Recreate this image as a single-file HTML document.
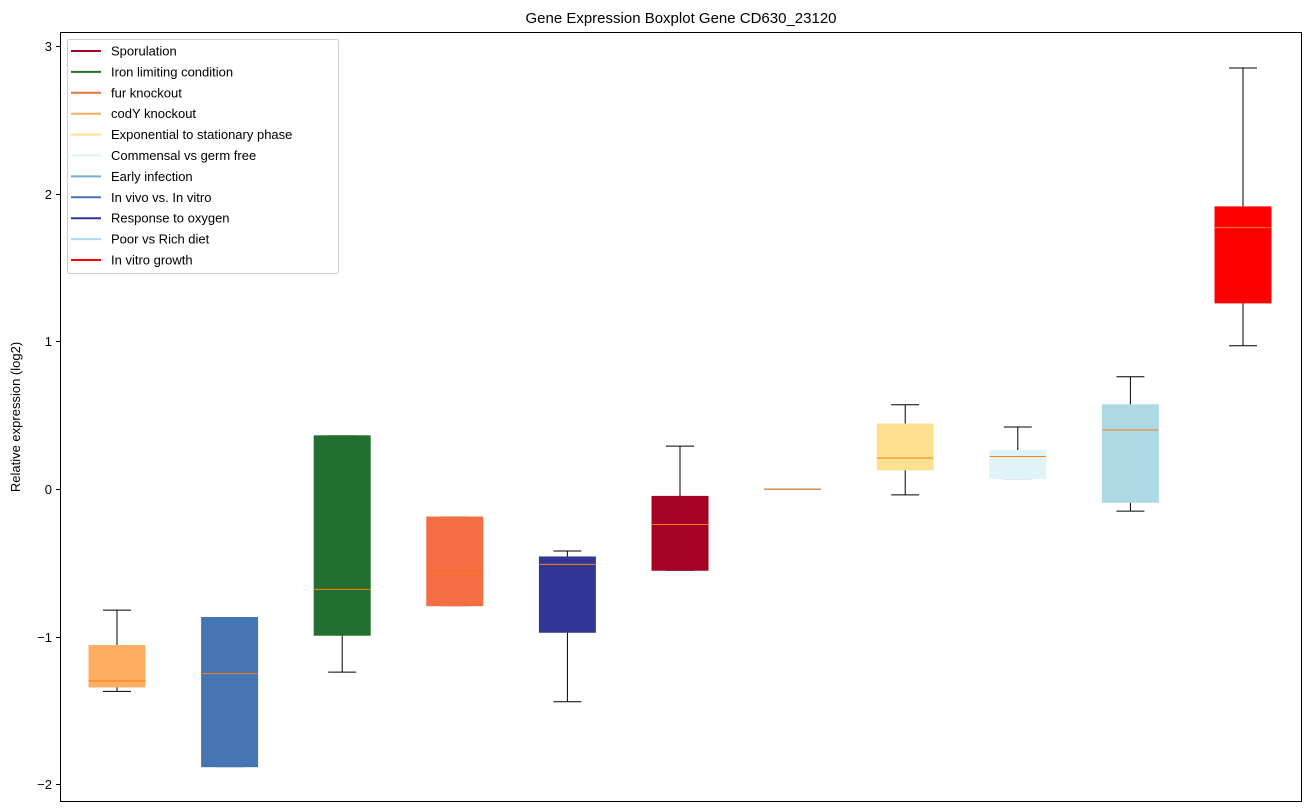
<!DOCTYPE html>
<html><head><meta charset="utf-8">
<style>
html,body{margin:0;padding:0;background:#fff;}
svg{display:block;font-family:"Liberation Sans","DejaVu Sans",sans-serif;}
</style></head>
<body>
<svg id="chart" width="1309" height="812" viewBox="0 0 1309 812">
<text x="681" y="23" text-anchor="middle" font-size="15" fill="#000">Gene Expression Boxplot Gene CD630_23120</text>
<text transform="translate(20,417) rotate(-90)" text-anchor="middle" font-size="13" fill="#000">Relative expression (log2)</text>
<g id="boxes"></g>
<g id="yticks"></g>
<rect x="60.5" y="32.5" width="1241" height="769" fill="none" stroke="#000" stroke-width="1"/>
<g id="legend"></g>
</svg>
<script>
const categories = ["codY knockout","In vivo vs. In vitro","Iron limiting condition","fur knockout","Response to oxygen","Sporulation","Early infection","Exponential to stationary phase","Commensal vs germ free","Poor vs Rich diet","In vitro growth"];
const colors = ["#fdae61","#4575b4","#226e2e","#f46d43","#313695","#a50026","#74add1","#fee090","#e0f3f8","#add8e6","#ff0000"];
const whiskerLow = [-1.37,-1.88,-1.24,-0.79,-1.44,-0.55,0,-0.04,0.07,-0.15,0.97];
const q1 = [-1.34,-1.88,-0.99,-0.79,-0.97,-0.55,0,0.13,0.07,-0.09,1.26];
const medians = [-1.30,-1.25,-0.68,-0.57,-0.51,-0.24,0,0.21,0.22,0.40,1.77];
const q3 = [-1.06,-0.87,0.36,-0.19,-0.46,-0.05,0,0.44,0.26,0.57,1.91];
const whiskerHigh = [-0.82,-0.87,0.36,-0.19,-0.42,0.29,0,0.57,0.42,0.76,2.85];
const yTicks = [-2,-1,0,1,2,3];
const legendLabels = ["Sporulation","Iron limiting condition","fur knockout","codY knockout","Exponential to stationary phase","Commensal vs germ free","Early infection","In vivo vs. In vitro","Response to oxygen","Poor vs Rich diet","In vitro growth"];
const legendColors = ["#a50026","#226e2e","#f46d43","#fdae61","#fee090","#e0f3f8","#74add1","#4575b4","#313695","#abd9e9","#ff0000"];

const NS="http://www.w3.org/2000/svg";
const y = v => 489 - v*147.7;
const x = i => 117 + i*112.6;
const BW = 56;
function mk(tag, attrs, parent){const e=document.createElementNS(NS,tag);for(const k in attrs)e.setAttribute(k,attrs[k]);parent.appendChild(e);return e;}

const gb=document.getElementById('boxes');
categories.forEach((c,i)=>{
  const g=mk('g',{},gb);
  
  
  const cx=x(i);
  mk('line',{x1:cx,x2:cx,y1:y(whiskerLow[i]),y2:y(q1[i]),stroke:'#000'},g);
  mk('line',{x1:cx,x2:cx,y1:y(q3[i]),y2:y(whiskerHigh[i]),stroke:'#000'},g);
  mk('line',{x1:cx-14,x2:cx+14,y1:y(whiskerLow[i]),y2:y(whiskerLow[i]),stroke:'#000'},g);
  mk('line',{x1:cx-14,x2:cx+14,y1:y(whiskerHigh[i]),y2:y(whiskerHigh[i]),stroke:'#000'},g);
  mk('rect',{x:cx-BW/2,y:y(q3[i]),width:BW,height:Math.max(y(q1[i])-y(q3[i]),0.5),fill:colors[i],stroke:colors[i]},g);
  mk('line',{x1:cx-BW/2,x2:cx+BW/2,y1:y(medians[i]),y2:y(medians[i]),stroke:'#ff7f0e','stroke-width':1},g);
});

const gt=document.getElementById('yticks');
yTicks.forEach(t=>{
  const yy=Math.round(y(t))+0.5;
  mk('line',{x1:56,x2:60,y1:yy,y2:yy,stroke:'#000'},gt);
  const tx=mk('text',{x:52,y:yy+4.5,'text-anchor':'end','font-size':13,fill:'#000'},gt);
  tx.textContent=t<0?'\u2212'+(-t):String(t);
  
  
});

const gl=document.getElementById('legend');


mk('rect',{x:67.5,y:39.5,width:271,height:234,rx:2,fill:'#fff','fill-opacity':0.8,stroke:'#ccc'},gl);
legendLabels.forEach((l,i)=>{
  const g=mk('g',{},gl);
  
  
  const yy=51+i*20.9;
  mk('line',{x1:71,x2:101,y1:yy,y2:yy,stroke:legendColors[i],'stroke-width':2},g);
  const t=mk('text',{x:111,y:yy+4.5,'font-size':13,fill:'#000'},g);
  t.textContent=l;
});
</script>
</body></html>
